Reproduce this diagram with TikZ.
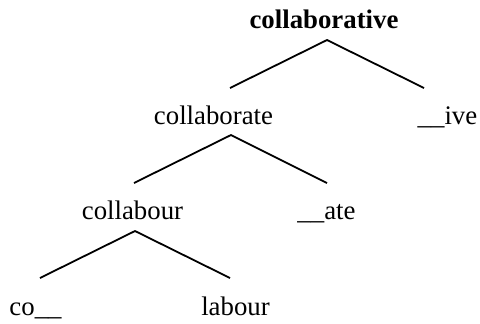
\documentclass[tikz,border=0pt]{standalone}
\usepackage{fontspec}
\setmainfont{Liberation Serif}
\begin{document}
\begin{tikzpicture}[x=0.5pt,y=-0.5pt,
  word/.style={anchor=base,inner sep=0pt,font=\fontsize{13.4}{16}\selectfont},
  branch/.style={line width=0.9pt}]
\useasboundingbox (0,0) rectangle (480,323);
% words
\node[word,font=\fontsize{13.4}{16}\selectfont\bfseries] (root) at (324,28) {collaborative};
\node[word] (cate) at (213.5,124) {collaborate};
\node[word] (ive) at (447.5,124) {\_\_ive};
\node[word] (cour) at (132.5,219) {collabour};
\node[word] (ate) at (326.5,219) {\_\_ate};
\node[word] (co) at (35.5,315) {co\_\_};
\node[word] (lab) at (235.5,315) {labour};
% branch points
\coordinate (a1) at (327,40);
\coordinate (l1) at (230,88);
\coordinate (r1) at (424,88);
\coordinate (a2) at (231,135);
\coordinate (l2) at (134,183);
\coordinate (r2) at (327,183);
\coordinate (a3) at (135,231);
\coordinate (l3) at (40,278);
\coordinate (r3) at (230,278);
\draw[branch] (l1) -- (a1) -- (r1);
\draw[branch] (l2) -- (a2) -- (r2);
\draw[branch] (l3) -- (a3) -- (r3);
\end{tikzpicture}
\end{document}
